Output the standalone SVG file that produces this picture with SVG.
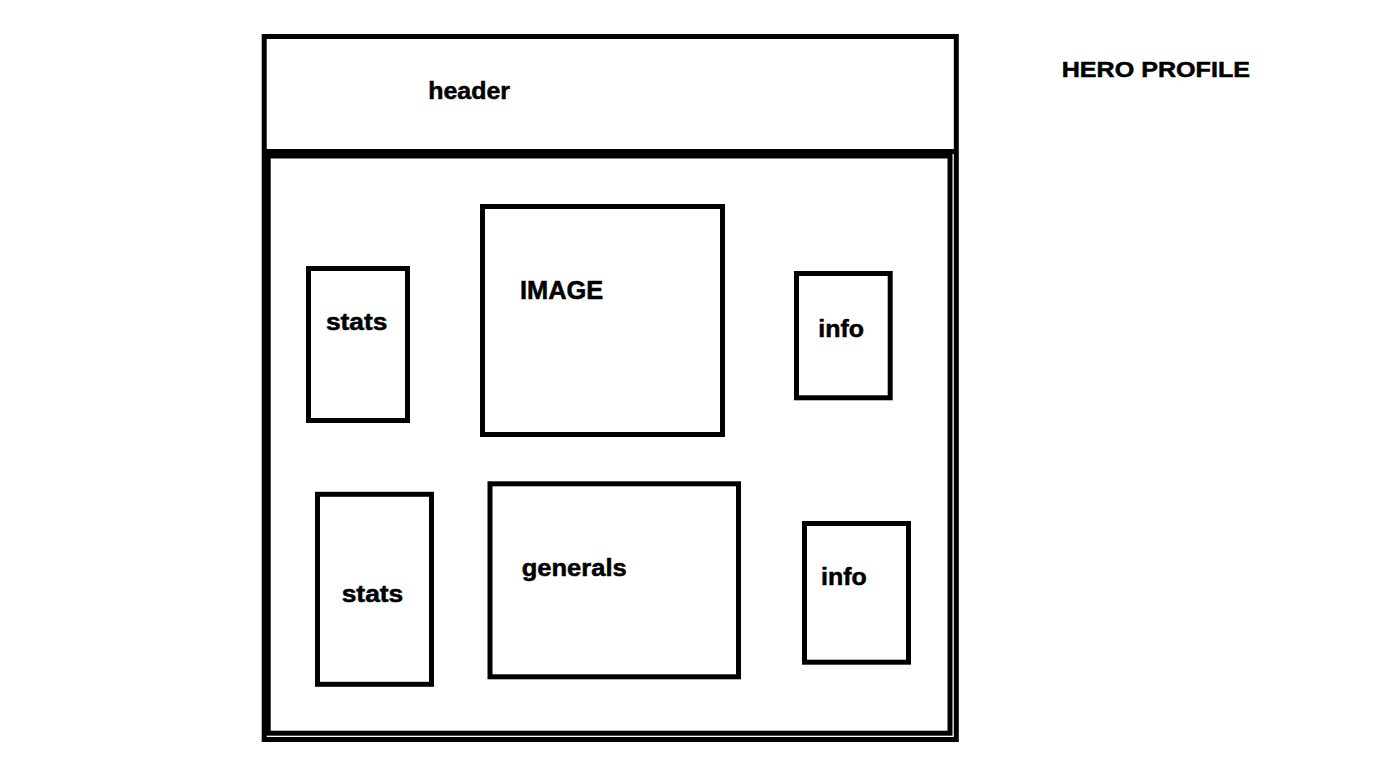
<svg xmlns="http://www.w3.org/2000/svg" width="1383" height="766" viewBox="0 0 1383 766">
<style>
.box{fill:none;stroke:#000;stroke-width:5}
.lbl{font-family:"Liberation Sans",Arial,sans-serif;font-weight:bold;fill:#000;stroke:#000;stroke-width:0.5}
</style>
<rect width="1383" height="766" fill="#fff"/>
<g id="frame">
<rect class="box" x="264.2" y="36.5" width="692.1" height="703" stroke-width="5.5"/>
<line class="box" x1="264.2" y1="151.5" x2="956.3" y2="151.5"/>
<rect class="box" x="268.2" y="156" width="681.8" height="577.2"/>
</g>
<g id="header">
<text class="lbl" x="428.3" y="99.3" font-size="23" textLength="81.7" lengthAdjust="spacingAndGlyphs">header</text>
</g>
<g id="title">
<text class="lbl" x="1061.7" y="77.3" font-size="22" textLength="188.3" lengthAdjust="spacingAndGlyphs">HERO PROFILE</text>
</g>
<g id="stats1">
<rect class="box" x="308.5" y="268.5" width="99" height="152"/>
<text class="lbl" x="326" y="330" font-size="23" textLength="61.3" lengthAdjust="spacingAndGlyphs">stats</text>
</g>
<g id="image">
<rect class="box" x="482.5" y="206.5" width="240" height="228"/>
<text class="lbl" x="520" y="299" font-size="25" textLength="83.3" lengthAdjust="spacingAndGlyphs">IMAGE</text>
</g>
<g id="info1">
<rect class="box" x="796.5" y="273.5" width="93.7" height="124.3"/>
<text class="lbl" x="818.3" y="337" font-size="23" textLength="45.7" lengthAdjust="spacingAndGlyphs">info</text>
</g>
<g id="stats2">
<rect class="box" x="317.5" y="494.3" width="114" height="190"/>
<text class="lbl" x="341.7" y="602.3" font-size="23" textLength="61.6" lengthAdjust="spacingAndGlyphs">stats</text>
</g>
<g id="generals">
<rect class="box" x="490" y="483.8" width="248.5" height="193"/>
<text class="lbl" x="521.7" y="576" font-size="23" textLength="105" lengthAdjust="spacingAndGlyphs">generals</text>
</g>
<g id="info2">
<rect class="box" x="804.5" y="523.5" width="104" height="138.7"/>
<text class="lbl" x="821" y="585.3" font-size="23" textLength="45.7" lengthAdjust="spacingAndGlyphs">info</text>
</g>
</svg>
